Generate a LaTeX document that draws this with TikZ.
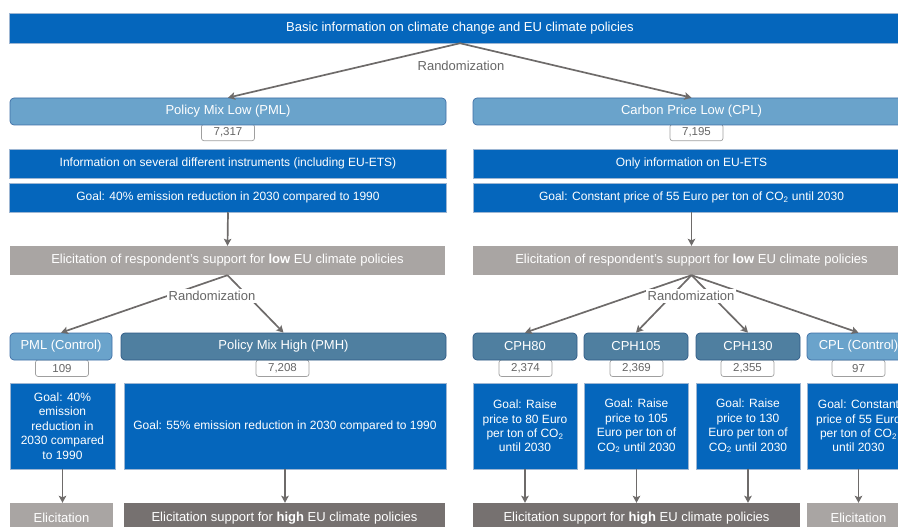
\documentclass[tikz,border=0pt]{standalone}
\usepackage{fontspec}
\setmainfont{Liberation Sans}
\usetikzlibrary{arrows.meta}
\definecolor{dblue}{HTML}{0566BC}
\definecolor{dblueedge}{HTML}{9DB6D3}
\definecolor{lblue}{HTML}{6AA3CB}
\definecolor{lblueedge}{HTML}{3F6FA6}
\definecolor{mblue}{HTML}{4F7FA0}
\definecolor{mblueedge}{HTML}{2F5A84}
\definecolor{lgray}{HTML}{A9A5A3}
\definecolor{dgray}{HTML}{767170}
\definecolor{arrgray}{HTML}{6E6B6A}
\definecolor{txtgray}{HTML}{666666}
\tikzset{
  fsT/.style={font=\fontsize{13}{15}\selectfont},
  fsS/.style={font=\fontsize{12}{14.4}\selectfont},
  bluebox/.style={fill=dblue, draw=dblueedge, line width=0.5pt, text=white, align=center, inner sep=0pt, fsS},
  lowbox/.style={fill=lblue, draw=lblueedge, line width=0.7pt, rounded corners=4pt, text=white, inner sep=0pt, fsT},
  highbox/.style={fill=mblue, draw=mblueedge, line width=0.7pt, rounded corners=4pt, text=white, inner sep=0pt, fsT},
  countbox/.style={fill=white, draw=gray!75, line width=0.7pt, rounded corners=2.5pt, text=txtgray, inner sep=0pt, minimum width=53, minimum height=16.5, font=\fontsize{11.5}{13}\selectfont},
  lgraybox/.style={fill=lgray, text=white, inner sep=0pt, fsT},
  dgraybox/.style={fill=dgray, text=white, inner sep=0pt, fsT},
  arr/.style={draw=arrgray, line width=1.7pt, -{Stealth[length=7pt,width=7.5pt,inset=1.5pt]}},
  rndlabel/.style={fill=white, text=txtgray, inner sep=2pt, fsT},
}
\begin{document}
\begin{tikzpicture}[x=1pt,y=-1pt]
\useasboundingbox (0,0) rectangle (898,527);
\clip (0,0) rectangle (898,527);

% top
\node[bluebox, fsT, minimum width=902, minimum height=30] (top) at (460,28) {Basic information on climate change and EU climate policies};

% count boxes (drawn first, top edges hidden)
\node[countbox] (n1) at (228,132.5) {7,317};
\node[countbox] (n2) at (696.5,132.5) {7,195};
\node[countbox] (n3) at (62,368.2) {109};
\node[countbox] (n4) at (282.5,368.2) {7,208};
\node[countbox] (n5) at (525.5,368.2) {2,374};
\node[countbox] (n6) at (636.5,368.2) {2,369};
\node[countbox] (n7) at (747.5,368.2) {2,355};
\node[countbox] (n8) at (858.5,368.2) {97};

% level 1
\node[lowbox, minimum width=436, minimum height=27] (pml) at (228,111.5) {Policy Mix Low (PML)};
\node[lowbox, minimum width=437, minimum height=27] (cpl) at (691.5,111.5) {Carbon Price Low (CPL)};

\node[bluebox, minimum width=437, minimum height=29] (info1) at (228,163.5) {Information on several different instruments (including EU-ETS)};
\node[bluebox, minimum width=437, minimum height=29] (goal1) at (228,197.5) {Goal: 40\% emission reduction in 2030 compared to 1990};
\node[bluebox, minimum width=437, minimum height=29] (info2) at (691.5,163.5) {Only information on EU-ETS};
\node[bluebox, minimum width=437, minimum height=29] (goal2) at (691.5,197.5) {Goal: Constant price of 55 Euro per ton of CO\textsubscript{2} until 2030};

\node[lgraybox, minimum width=435, minimum height=29] (elic1) at (227.5,260.5) {Elicitation of respondent’s support for \textbf{low} EU climate policies};
\node[lgraybox, minimum width=437, minimum height=29] (elic2) at (691.5,260.5) {Elicitation of respondent’s support for \textbf{low} EU climate policies};

% level 2
\node[lowbox, minimum width=102, minimum height=27] (pmlc) at (61,346.5) {PML (Control)};
\node[highbox, minimum width=325, minimum height=27] (pmh) at (283.5,346.5) {Policy Mix High (PMH)};
\node[highbox, minimum width=104, minimum height=27] (cph80) at (525,346.5) {CPH80};
\node[highbox, minimum width=104, minimum height=27] (cph105) at (636,346.5) {CPH105};
\node[highbox, minimum width=104, minimum height=27] (cph130) at (748,346.5) {CPH130};
\node[lowbox, minimum width=103, minimum height=27] (cplc) at (858.5,346.5) {CPL (Control)};

\node[bluebox, minimum width=105, minimum height=86] (g2a) at (62.5,426) {Goal: 40\%\\emission\\reduction in\\2030 compared\\to 1990};
\node[bluebox, minimum width=322, minimum height=86] (g2b) at (285,426) {Goal: 55\% emission reduction in 2030 compared to 1990};
\node[bluebox, minimum width=104, minimum height=86] (g3a) at (525,426) {Goal: Raise\\price to 80 Euro\\per ton of CO\textsubscript{2}\\until 2030};
\node[bluebox, minimum width=104, minimum height=86] (g3b) at (636.5,426) {Goal: Raise\\price to 105\\Euro per ton of\\CO\textsubscript{2} until 2030};
\node[bluebox, minimum width=104, minimum height=86] (g3c) at (748,426) {Goal: Raise\\price to 130\\Euro per ton of\\CO\textsubscript{2} until 2030};
\node[bluebox, minimum width=103, minimum height=86] (g3d) at (858.5,426) {Goal: Constant\\price of 55 Euro\\per ton of CO\textsubscript{2}\\until 2030};

\node[lgraybox, minimum width=103, minimum height=30] (e2a) at (61.5,518) {Elicitation};
\node[dgraybox, minimum width=321, minimum height=30] (e2b) at (284.5,518) {Elicitation support for \textbf{high} EU climate policies};
\node[dgraybox, minimum width=327, minimum height=30] (e3) at (636.5,518) {Elicitation support for \textbf{high} EU climate policies};
\node[lgraybox, minimum width=103, minimum height=30] (e3d) at (858.5,518) {Elicitation};

% arrows
\draw[arr] (top.south) -- (pml.north);
\draw[arr] (top.south) -- (cpl.north);
\node[text=txtgray, inner sep=0pt, fsT] (r0) at (461,66) {Randomization};

\draw[arr] (goal1.south) -- (elic1.north);
\draw[arr] (goal2.south) -- (elic2.north);

\draw[arr] (elic1.south) -- (pmlc.north);
\draw[arr] (elic1.south) -- (pmh.north);
\node[rndlabel] (r1) at (212,296) {Randomization};

\draw[arr] (elic2.south) -- (cph80.north);
\draw[arr] (elic2.south) -- (cph105.north);
\draw[arr] (elic2.south) -- (cph130.north);
\draw[arr] (elic2.south) -- (cplc.north);
\node[rndlabel] (r2) at (691,296) {Randomization};

\draw[arr] (g2a.south) -- (g2a.south |- e2a.north);
\draw[arr] (g2b.south) -- (g2b.south |- e2b.north);
\draw[arr] (g3a.south) -- (g3a.south |- e3.north);
\draw[arr] (g3b.south) -- (g3b.south |- e3.north);
\draw[arr] (g3c.south) -- (g3c.south |- e3.north);
\draw[arr] (g3d.south) -- (g3d.south |- e3d.north);
\end{tikzpicture}
\end{document}
